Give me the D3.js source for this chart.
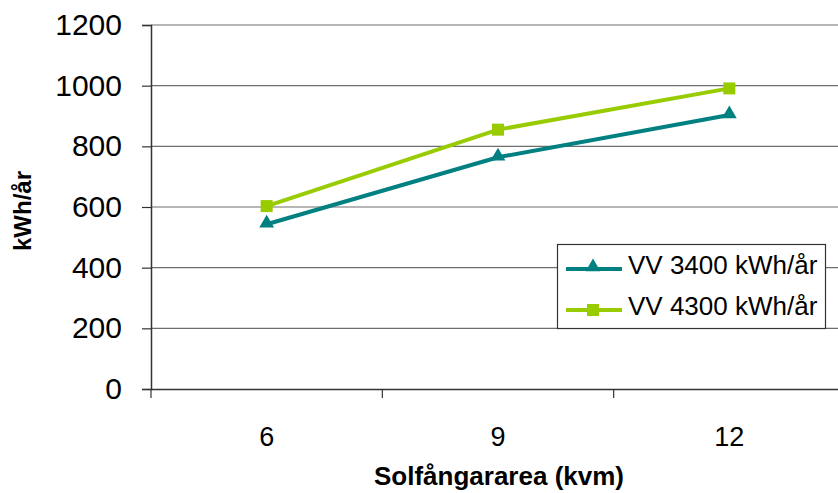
<!DOCTYPE html>
<html>
<head>
<meta charset="utf-8">
<script src="https://cdn.jsdelivr.net/npm/d3@7"></script>
<style>
  html, body { margin: 0; padding: 0; background: #fff; }
  svg { display: block; font-family: "Liberation Sans", Arial, sans-serif; }
</style>
</head>
<body>
<svg id="chart" width="838" height="493"></svg>
<script>
const categories = ["6", "9", "12"];
const seriesNames = ["VV 3400 kWh/år", "VV 4300 kWh/år"];
const vv3400 = [543, 764, 903];
const vv4300 = [603, 855, 991];
const yTicks = [0, 200, 400, 600, 800, 1000, 1200];
const xTitle = "Solfångararea (kvm)";
const yTitle = "kWh/år";

const colors = ["#008080", "#99CC00"];
const svg = d3.select("#chart");

const x = d3.scaleBand().domain(categories).range([151, 845]);
const y = d3.scaleLinear().domain([0, 1200]).range([389, 25]);

// gridlines
svg.append("g").selectAll("line").data(yTicks.filter(d => d > 0)).join("line")
  .attr("x1", 151).attr("x2", 845)
  .attr("y1", d => y(d)).attr("y2", d => y(d))
  .attr("stroke", "#6e6e6e").attr("stroke-width", 1.2);

// y axis
const yAxis = svg.append("g").attr("transform", "translate(151,0)")
  .call(d3.axisLeft(y).tickValues(yTicks).tickSize(9).tickPadding(20).tickFormat(d3.format("d")));
yAxis.select(".domain").attr("stroke", "#333").attr("stroke-width", 1.5);
yAxis.selectAll(".tick line").attr("stroke", "#333").attr("stroke-width", 1.2);
yAxis.selectAll(".tick text").attr("font-size", 30).attr("fill", "#000")
  .attr("font-family", "'Liberation Sans', Arial, sans-serif");

// x axis
const xAxis = svg.append("g").attr("transform", "translate(0,389)")
  .call(d3.axisBottom(x).tickSize(0).tickPadding(0));
xAxis.select(".domain").attr("stroke", "#333").attr("stroke-width", 1.5);
xAxis.selectAll(".tick text").attr("font-size", 27).attr("fill", "#000")
  .attr("dy", null).attr("y", 57)
  .attr("font-family", "'Liberation Sans', Arial, sans-serif");
// x ticks at band boundaries
const bounds = categories.map(c => x(c)).concat([x(categories[categories.length - 1]) + x.bandwidth()]);
svg.append("g").selectAll("line").data(bounds).join("line")
  .attr("x1", d => d).attr("x2", d => d).attr("y1", 389).attr("y2", 398)
  .attr("stroke", "#333").attr("stroke-width", 1.2);

// titles
svg.append("text").attr("x", 499).attr("y", 485).attr("text-anchor", "middle")
  .attr("font-size", 26).attr("font-weight", "bold").text(xTitle);
svg.append("text").attr("transform", "translate(31,211) rotate(-90)").attr("text-anchor", "middle")
  .attr("font-size", 24).attr("font-weight", "bold").text(yTitle);

// series
const series = [vv3400, vv4300];
const line = d3.line().x((d, i) => x(categories[i]) + x.bandwidth() / 2).y(d => y(d));
series.forEach((s, k) => {
  svg.append("path").datum(s).attr("d", line)
    .attr("fill", "none").attr("stroke", colors[k]).attr("stroke-width", 4);
});
const tri = d3.symbol().type(d3.symbolTriangle).size(95);
svg.append("g").selectAll("path").data(vv3400).join("path")
  .attr("d", tri)
  .attr("transform", (d, i) => `translate(${x(categories[i]) + x.bandwidth() / 2},${y(d) - 1})`)
  .attr("fill", colors[0]);
svg.append("g").selectAll("rect").data(vv4300).join("rect")
  .attr("x", (d, i) => x(categories[i]) + x.bandwidth() / 2 - 6)
  .attr("y", d => y(d) - 6).attr("width", 12).attr("height", 12)
  .attr("fill", colors[1]);

// legend
const lg = svg.append("g");
lg.append("rect").attr("x", 557.5).attr("y", 244.5).attr("width", 268).attr("height", 84)
  .attr("fill", "#fff").attr("stroke", "#333").attr("stroke-width", 1.2);
const rows = [269, 310];
seriesNames.forEach((name, k) => {
  lg.append("line").attr("x1", 566).attr("x2", 622).attr("y1", rows[k]).attr("y2", rows[k])
    .attr("stroke", colors[k]).attr("stroke-width", 4);
  if (k === 0) {
    lg.append("path").attr("d", tri).attr("transform", `translate(593,${rows[k] - 2})`).attr("fill", colors[k]);
  } else {
    lg.append("rect").attr("x", 587).attr("y", rows[k] - 6).attr("width", 12).attr("height", 12).attr("fill", colors[k]);
  }
  lg.append("text").attr("x", 628).attr("y", rows[k] + 5).attr("font-size", 26).text(name);
});
</script>
</body>
</html>
